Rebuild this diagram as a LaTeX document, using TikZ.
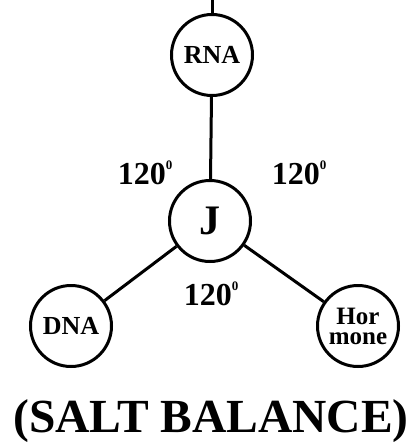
\documentclass[tikz,border=0pt]{standalone}
\usepackage{fontspec}
\setmainfont{Liberation Serif}
\begin{document}
\begin{tikzpicture}[x=1pt,y=-1pt,
  circ/.style={circle,draw,line width=3pt,minimum size=81pt,inner sep=0pt,font=\bfseries\fontsize{26}{26}\selectfont,align=center},
  link/.style={line width=3pt},
  ang/.style={font=\bfseries\fontsize{32}{32}\selectfont,inner sep=0pt}]
\useasboundingbox (0,0) rectangle (417,445);
\node[circ] (rna) at (212,55) {RNA};
\node[circ,font=\bfseries\fontsize{42}{42}\selectfont] (j) at (210,221) {J};
\node[circ] (dna) at (71,326) {DNA};
\node[circ,font=\bfseries\fontsize{25}{20}\selectfont] (hor) at (358,326) {Hor\\mone};
\coordinate (top) at (212,0);
\draw[link] (top) -- (rna);
\draw[link] (rna) -- (j);
\draw[link] (j) -- (dna);
\draw[link] (j) -- (hor);
\node[ang] (a1) at (145,173) {120\raisebox{0.45em}{\fontsize{13}{13}\selectfont 0}};
\node[ang] (a2) at (299,173) {120\raisebox{0.45em}{\fontsize{13}{13}\selectfont 0}};
\node[ang] (a3) at (211,294) {120\raisebox{0.45em}{\fontsize{13}{13}\selectfont 0}};
\node[font=\bfseries\fontsize{47.5}{47.5}\selectfont,inner sep=0pt] (title) at (211,421) {(SALT BALANCE)};
\end{tikzpicture}
\end{document}
